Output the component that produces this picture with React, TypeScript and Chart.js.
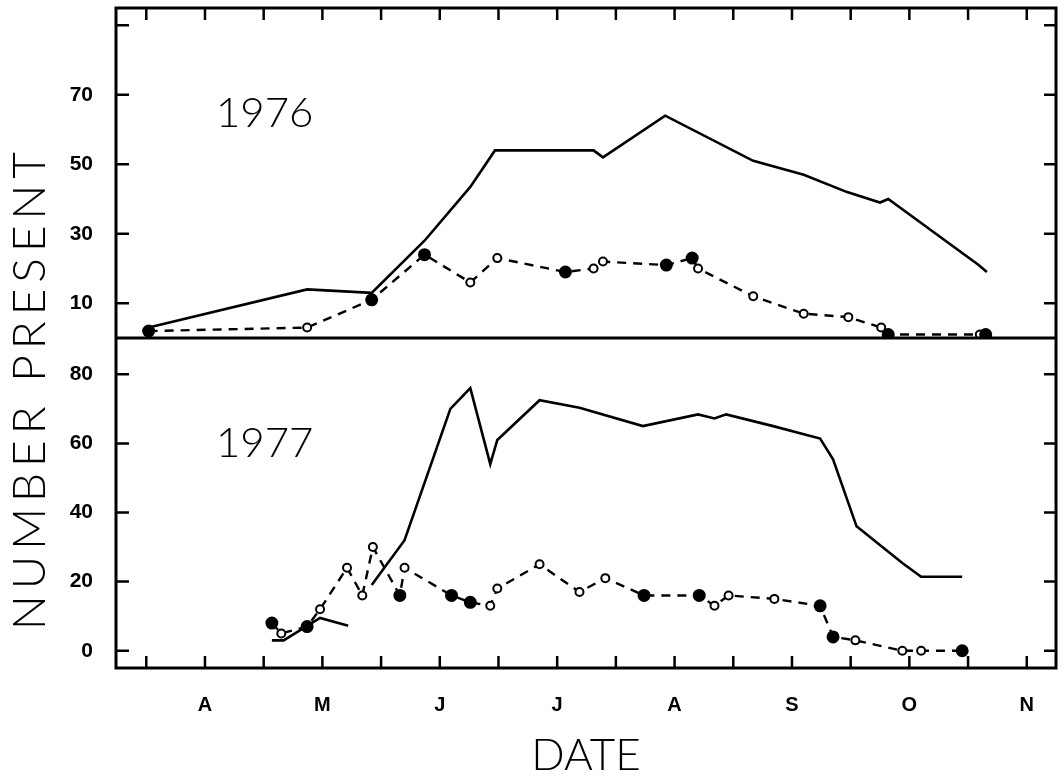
import React, { useEffect, useRef } from 'react';
import { Chart, registerables } from 'chart.js';

Chart.register(...registerables);

// ---- axis definitions (x in month units: 4 = April ... 11 = November) ----
const monthLabels = ['A', 'M', 'J', 'J', 'A', 'S', 'O', 'N'];
const monthValues = [4, 5, 6, 7, 8, 9, 10, 11];
const xTickValues = [3.5, 4, 4.5, 5, 5.5, 6, 6.5, 7, 7.5, 8, 8.5, 9, 9.5, 10, 10.5, 11];
const topYTicks = [10, 20, 30, 40, 50, 60, 70, 80, 90];
const topYLabels = [10, 30, 50, 70];
const bottomYTicks = [0, 10, 20, 30, 40, 50, 60, 70, 80];
const bottomYLabels = [0, 20, 40, 60, 80];

// ---- 1976 ----
const x1976Total = [3.52, 4.87, 5.42, 5.87, 6.26, 6.47, 7.31, 7.39, 7.92, 8.67, 9.10, 9.47, 9.75, 9.82, 10.59, 10.66];
const y1976Total = [3, 14, 13, 28, 43.5, 54, 54, 52, 64, 51, 47, 42, 39, 40, 21, 19];

const x1976Dash = [3.52, 4.87, 5.42, 5.87, 6.26, 6.49, 7.07, 7.31, 7.39, 7.93, 8.15, 8.20, 8.67, 9.10, 9.48, 9.76, 9.82, 10.60, 10.65];
const y1976Dash = [2, 3, 11, 24, 16, 23, 19, 20, 22, 21, 23, 20, 12, 7, 6, 3, 1, 1, 1];
const f1976Dash = [1, 0, 1, 1, 0, 0, 1, 0, 0, 1, 1, 0, 0, 0, 0, 0, 1, 0, 1];

// ---- 1977 ----
const x1977TotalEarly = [4.57, 4.67, 4.98, 5.22];
const y1977TotalEarly = [3, 3, 9.5, 7.2];
const x1977TotalMain = [5.42, 5.70, 6.09, 6.26, 6.43, 6.49, 6.85, 7.19, 7.73, 8.20, 8.34, 8.44, 8.84, 9.24, 9.35, 9.55, 9.94, 10.10, 10.45];
const y1977TotalMain = [19, 32, 70, 76, 54, 61, 72.5, 70.3, 65, 68.4, 67.2, 68.4, 65, 61.4, 55.4, 36, 25.4, 21.4, 21.4];

const x1977Dash = [4.57, 4.65, 4.87, 4.98, 5.21, 5.34, 5.43, 5.66, 5.70, 6.10, 6.26, 6.43, 6.49, 6.85, 7.19, 7.41, 7.74, 8.21, 8.34, 8.46, 8.85, 9.24, 9.35, 9.54, 9.94, 10.10, 10.45];
const y1977Dash = [8, 5, 7, 12, 24, 16, 30, 16, 24, 16, 14, 13, 18, 25, 17, 21, 16, 16, 13, 16, 15, 13, 4, 3, 0, 0, 0];
const f1977Dash = [1, 0, 1, 0, 0, 0, 0, 1, 0, 1, 1, 0, 0, 0, 0, 0, 1, 1, 0, 0, 0, 1, 1, 0, 0, 0, 1];

const yearLabels = ['1976', '1977'];
const yTitle = 'NUMBER PRESENT';
const xTitle = 'DATE';

const pts = (xs: number[], ys: number[]) => xs.map((x, i) => ({ x, y: ys[i] }));

const solid = (xs: number[], ys: number[], yAxisID: string) => ({
  data: pts(xs, ys),
  yAxisID,
  borderColor: '#000',
  borderWidth: 2.6,
  pointRadius: 0,
  tension: 0,
  fill: false,
});

const dashed = (xs: number[], ys: number[], filled: number[], yAxisID: string) => ({
  data: pts(xs, ys),
  yAxisID,
  borderColor: '#000',
  borderWidth: 2.4,
  borderDash: [9, 7],
  tension: 0,
  fill: false,
  pointStyle: 'circle',
  pointRadius: filled.map((f) => (f ? 5.5 : 4)),
  pointBackgroundColor: filled.map((f) => (f ? '#000' : '#fff')),
  pointBorderColor: '#000',
  pointBorderWidth: 2,
});

const zeroPad = (s: any) => {
  s.paddingTop = 0;
  s.paddingBottom = 0;
  s.paddingLeft = 0;
  s.paddingRight = 0;
};

const framePlugin = {
  id: 'frameAndText',
  afterDraw(chart: any) {
    const { ctx, chartArea: ca, scales } = chart;
    const xs = scales.x;
    const yt = scales.yTop;
    const yb = scales.yBottom;
    ctx.save();
    ctx.strokeStyle = '#000';
    ctx.lineCap = 'butt';
    ctx.lineWidth = 2.5;
    const tl = 12;
    ctx.beginPath();
    xs.ticks.forEach((t: any) => {
      const px = xs.getPixelForValue(t.value);
      ctx.moveTo(px, ca.bottom);
      ctx.lineTo(px, ca.bottom - tl);
      ctx.moveTo(px, ca.top);
      ctx.lineTo(px, ca.top + tl);
    });
    [yt, yb].forEach((s: any) =>
      s.ticks.forEach((t: any) => {
        const py = s.getPixelForValue(t.value);
        ctx.moveTo(ca.left, py);
        ctx.lineTo(ca.left + tl + 1, py);
        ctx.moveTo(ca.right, py);
        ctx.lineTo(ca.right - tl, py);
      })
    );
    ctx.stroke();
    ctx.lineWidth = 3;
    ctx.strokeRect(ca.left, ca.top, ca.right - ca.left, ca.bottom - ca.top);
    const divider = yt.bottom;
    ctx.beginPath();
    ctx.moveTo(ca.left, divider);
    ctx.lineTo(ca.right, divider);
    ctx.stroke();

    // year annotations
    ctx.fillStyle = '#000';
    ctx.font = '300 42px Lato';
    ctx.textAlign = 'left';
    ctx.textBaseline = 'alphabetic';
    ctx.fillText(yearLabels[0], ca.left + 100, 127);
    ctx.fillText(yearLabels[1], ca.left + 100, 457);

    // y axis title
    ctx.save();
    ctx.translate(45, 388);
    ctx.rotate(-Math.PI / 2);
    ctx.font = '300 46px Lato';
    ctx.textAlign = 'center';
    ctx.textBaseline = 'alphabetic';
    (ctx as any).letterSpacing = '6px';
    ctx.fillText(yTitle, 0, 0);
    ctx.restore();
    ctx.restore();
  },
};

export default function App() {
  const ref = useRef<HTMLCanvasElement | null>(null);
  useEffect(() => {
    if (!ref.current) return;
    const chart = new Chart(ref.current, {
      type: 'line',
      data: {
        datasets: [
          solid(x1976Total, y1976Total, 'yTop'),
          dashed(x1976Dash, y1976Dash, f1976Dash, 'yTop'),
          solid(x1977TotalEarly, y1977TotalEarly, 'yBottom'),
          solid(x1977TotalMain, y1977TotalMain, 'yBottom'),
          dashed(x1977Dash, y1977Dash, f1977Dash, 'yBottom'),
        ] as any,
      },
      options: {
        animation: false,
        responsive: false,
        devicePixelRatio: 1,
        layout: { padding: { top: 8, right: 8, left: 0, bottom: 0 } },
        plugins: { legend: { display: false }, tooltip: { enabled: false } },
        scales: {
          x: {
            type: 'linear',
            position: 'bottom',
            min: 3.242,
            max: 11.249,
            afterBuildTicks: (s: any) => {
              s.ticks = xTickValues.map((value) => ({ value }));
            },
            afterFit: (s: any) => {
              s.height = 110;
              zeroPad(s);
            },
            grid: { display: false, drawTicks: false },
            border: { display: false },
            ticks: {
              autoSkip: false,
              maxRotation: 0,
              padding: 25,
              color: '#000',
              font: { family: 'Liberation Sans', weight: 'bold', size: 20 },
              callback: (v: any) => {
                const i = monthValues.indexOf(Number(v));
                return i >= 0 ? monthLabels[i] : '';
              },
            },
            title: {
              display: true,
              text: xTitle,
              color: '#000',
              padding: 0,
              font: { family: 'Lato', weight: '300', size: 44, lineHeight: 1 },
            },
          },
          yBottom: {
            type: 'linear',
            position: 'left',
            stack: 'panels',
            stackWeight: 1,
            min: -5,
            max: 90.5,
            afterBuildTicks: (s: any) => {
              s.ticks = bottomYTicks.map((value) => ({ value }));
            },
            afterFit: (s: any) => {
              s.width = 116;
              zeroPad(s);
            },
            grid: { display: false, drawTicks: false },
            border: { display: false },
            ticks: {
              padding: 23,
              color: '#000',
              font: { family: 'Liberation Sans', weight: 'bold', size: 21 },
              callback: (v: any) => (bottomYLabels.includes(Number(v)) ? String(v) : ''),
            },
          },
          yTop: {
            type: 'linear',
            position: 'left',
            stack: 'panels',
            stackWeight: 1,
            min: 0,
            max: 95,
            afterBuildTicks: (s: any) => {
              s.ticks = topYTicks.map((value) => ({ value }));
            },
            afterFit: (s: any) => {
              s.width = 116;
              zeroPad(s);
            },
            grid: { display: false, drawTicks: false },
            border: { display: false },
            ticks: {
              padding: 23,
              color: '#000',
              font: { family: 'Liberation Sans', weight: 'bold', size: 21 },
              callback: (v: any) => (topYLabels.includes(Number(v)) ? String(v) : ''),
            },
          },
        },
      } as any,
      plugins: [framePlugin],
    });
    return () => chart.destroy();
  }, []);
  return (
    <div style={{ position: 'fixed', left: 0, top: 0, width: 1064, height: 778, background: '#fff' }}>
      <canvas ref={ref} width={1064} height={778} style={{ display: 'block' }} />
    </div>
  );
}
